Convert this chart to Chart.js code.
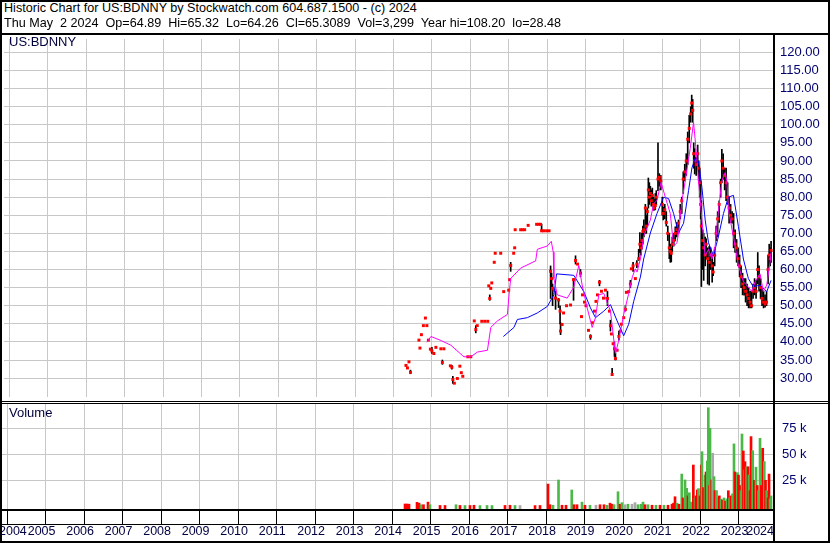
<!DOCTYPE html>
<html><head><meta charset="utf-8">
<script src="https://cdn.jsdelivr.net/npm/chart.js@4.4.1/dist/chart.umd.min.js"></script>
<style>
html,body{margin:0;padding:0;background:#fff;}
#wrap{position:relative;width:830px;height:543px;overflow:hidden;background:#fff;}
.txt{position:absolute;white-space:pre;font-family:'Liberation Sans',Arial,sans-serif;font-size:12.6px;line-height:14px;z-index:6;}
.ln{position:absolute;background:#000;z-index:5;}
canvas{position:absolute;left:0;}
</style></head><body>
<div id="wrap">
<canvas id="priceCanvas" width="830" height="366" style="top:35px;width:830px;height:366px"></canvas>
<canvas id="volCanvas" width="830" height="140" style="top:403px;width:830px;height:140px"></canvas>
<div class="txt" style="left:4px;top:1px;color:#000">Historic Chart for US:BDNNY by Stockwatch.com 604.687.1500 - (c) 2024</div>
<div class="txt" style="left:4px;top:16px;color:#000">Thu May  2 2024  Op=64.89  Hi=65.32  Lo=64.26  Cl=65.3089  Vol=3,299  Year hi=108.20  lo=28.48</div>
<div class="txt" style="left:9px;top:35px;color:#00003c;font-size:13px">US:BDNNY</div>
<div class="txt" style="left:9px;top:406px;color:#00003c;font-size:13px">Volume</div>
<div class="ln" style="left:0;top:0;width:830px;height:2px"></div>
<div class="ln" style="left:0;top:0;width:2px;height:543px"></div>
<div class="ln" style="left:828px;top:0;width:2px;height:543px"></div>
<div class="ln" style="left:0;top:541px;width:830px;height:2px"></div>
<div class="ln" style="left:0;top:33px;width:830px;height:2px"></div>
<div class="ln" style="left:0;top:401px;width:830px;height:1px"></div>
<div class="ln" style="left:0;top:403px;width:830px;height:1px"></div>
<div class="ln" style="left:0;top:509px;width:775px;height:2px"></div>
<div class="ln" style="left:0;top:524px;width:775px;height:1px"></div>
<div class="ln" style="left:773px;top:35px;width:2px;height:508px"></div>
</div>
<script>
// ---------- DATA (dates as decimal years) ----------
const yearTicks = [2005,2006,2007,2008,2009,2010,2011,2012,2013,2014,2015,2016,2017,2018,2019,2020,2021,2022,2023,2024];
const yearLabels = [2004,2005,2006,2007,2008,2009,2010,2011,2012,2013,2014,2015,2016,2017,2018,2019,2020,2021,2022,2023,2024];
const priceTicks = [30,35,40,45,50,55,60,65,70,75,80,85,90,95,100,105,110,115,120];
const volTicks = [25000,50000,75000];

// close-only prints (no visible high/low range)
const tickDates = [
2014.826,2014.865,2014.904,2015.164,2015.190,2015.228,2015.280,2015.332,2015.371,2015.410,
2015.462,2015.553,2015.605,2015.735,2015.813,2015.982,2016.086,2016.164,2016.229,2016.267,
2016.306,2016.436,2016.514,2016.605,2016.683,2016.800,2016.878,2016.956,2016.982,2017.034,
2017.060,2017.125,2017.150,2017.293,2017.371,2017.501,2017.527,2017.631,2017.657,2017.670,
2017.813,2017.865,2017.917,2018.008,2018.228,2018.280,2018.332,2018.410,2018.488,2018.553,
2018.683,2018.891,2018.930,2019.008,2019.112,2019.294,2019.397,2019.423,2019.475,2019.514,
2019.579,2019.683,2019.735,2019.774,2019.813,2019.917,2019.969,2020.021,2020.125,2020.177,
2020.221,2020.325,2020.410,2020.436,2020.496,2020.566,2020.626,2020.696,2020.800];
const tickCloses = [
33.5,32.8,34.5,40.5,38.3,42,44.5,46.6,44.5,40.5,
38,36.8,38.5,38.1,38.1,33.4,28.6,29.9,33.3,31.5,
30.5,35.9,35.9,45.8,44.5,45.7,45.7,45.7,55.5,54.8,
56.3,62,64.5,64.5,53.9,54.3,57.2,64.5,66,71,
71,71,71,72.2,72.5,72.5,72.5,70.7,70.7,70.7,
54.3,44.8,48,50,50.2,61.5,47,53,51,50,
43.2,45.3,48.5,51.2,53,54,52.1,54.3,48.5,42.2,
39.5,37.7,43,44.9,46.7,53.7,53.9,60.2,57.5];

// periods with a visible high-low range
const barDates = [
2014.943,2015.501,2015.774,2016.021,2016.047,2016.644,2017.008,2017.553,2018.358,2018.592,
2018.618,2018.644,2018.722,2018.800,2018.839,2018.852,2019.190,2019.242,2019.371,2019.631,
2019.865,2020.073,2020.151,2020.195,2020.255,2020.281,2020.371,2020.540,2020.670,2020.740,
2020.839,2020.886,2020.917,
2020.943,2020.969,2020.995,2021.021,2021.060,2021.086,2021.112,2021.138,2021.164,2021.190,
2021.216,2021.242,2021.267,2021.293,2021.319,2021.345,2021.389,2021.423,2021.462,2021.501,
2021.527,2021.566,2021.605,2021.644,2021.683,2021.709,2021.735,2021.761,2021.800,2021.839,
2021.878,2021.925,2021.969,2022.008,2022.047,2022.086,2022.125,2022.163,2022.202,2022.241,
2022.267,2022.293,2022.319,2022.345,2022.384,2022.423,2022.449,2022.475,2022.501,2022.519,
2022.553,2022.579,2022.618,2022.644,2022.683,2022.722,2022.761,2022.800,2022.826,2022.865,
2022.904,2022.943,2022.982,2023.021,2023.052,2023.086,2023.125,2023.163,2023.202,2023.241,
2023.280,2023.319,2023.358,2023.397,2023.436,2023.475,2023.514,2023.553,2023.592,2023.631,
2023.670,2023.709,2023.748,2023.787,2023.826,2023.865,2023.904,2023.943,2023.987,2024.021,
2024.060,2024.099,2024.138,2024.177,2024.216,2024.255,2024.285,2024.310,2024.334];
const barHighs = [
32.2,38.5,35,33.5,30.5,44.5,53,62,72.5,61,
59,56,54,52,50,45.3,57.5,63.8,60,42,
57,54,46,32.7,40,37,43,50,57,62,
62.5,65.6,70.2,
68,70,72,73.7,78,75,77,85.3,84,83,
82,82.5,80,79.5,81,81.8,95,86.5,86,80,
77.3,78,76,72,70,67,66,69,70,71.8,
73,73.7,78,80,87,89.1,92,98,102.6,105,
108.2,107,95,93.4,91,94.4,90,88,84.5,79,
71,70,69,68.5,66,66.4,66,64,62,66,
72,76,79,85,93.2,92,88,88,84,80,
78,76,75.5,71,68.3,66,64,61,59,57.5,
57.5,56,55,54,54,56,57.5,57,64.7,61,
57.5,55,54,53,54,64,67,66,67.8];
const barLows = [
31.2,36.8,33.8,32.5,28.5,42.5,51.5,59.5,70.7,52,
55,50,49,49.5,45,42,51.5,61.5,58,40.7,
55.5,50,43,30.8,36,35,40.5,48.5,55,59.5,
60.5,62.5,64.7,
64,65.6,67,69,70,70,72,77,78,79,
77.5,78,76.4,76.4,76.5,78,81.8,83,82,75,
73.7,74,72,68,63,62,62.1,65,66.5,68,
69,70,74,75.5,81,84.5,86,89,95,100.7,
103,100.7,88,86.4,86,88,84.5,80,74,55.3,
60,57,61,63,56,55.7,60,56.5,58.3,61,
68,69,73,80,84,85,82,79,78,72.8,
73,72.8,66,64.7,62,61,58,55,53,52.9,
51,50,49.4,49.4,49.4,52,53,52,56,54,
52,50,49.4,49.6,50,56,61,61,62];
const barCloses = [
31.6,37.5,34.3,33,29.6,43.4,52,61.1,70.7,59.5,
57.5,54.8,52.1,51.6,48.5,43,57.2,62.5,59,41.5,
56.5,52,44.5,31,38.1,35.4,41.5,49,56,61,
61.5,63,67,
66,68,70.5,71,77,72,76,82,80,81,
79,80.5,78,77,77.7,80,85,85.5,84.5,78,
75.5,76.5,73,70,66,65,64.5,67,68,70,
71,72.8,76,79,85,87,90,96,99,103,
106,104,92,90,89,92,88,84,78,72,
68,66,64,67,63,62,64,61,59.3,64,
70,74,78,84,90,88,86,84,80,77,
75,74,70,67,66,63,61,58,56,55,
54,53,52,51,50,54,55,54,60,58,
55,52,51,50.5,51,60,64,63,65.31];

// short moving average (magenta)
const fastMaDates = [
2015.371,2015.475,2015.735,2015.995,2016.332,2016.514,2016.688,2016.948,2017.034,2017.208,
2017.468,2017.510,2017.553,2017.813,2018.203,2018.247,2018.507,2018.610,2018.662,2018.678,
2018.766,2019.026,2019.197,2019.327,2019.415,2019.545,2019.675,2019.761,2019.847,2019.977,
2020.151,2020.281,2020.367,2020.496,2020.618,2020.722,2020.800,2020.844,2020.930,2021.016,
2021.190,2021.276,2021.364,2021.468,2021.580,2021.709,2021.795,2021.884,2021.925,2022.014,
2022.099,2022.229,2022.315,2022.385,2022.445,2022.533,2022.618,2022.704,2022.792,2022.878,
2022.964,2023.052,2023.138,2023.182,2023.224,2023.397,2023.483,2023.613,2023.701,2023.831,
2023.917,2024.047,2024.133,2024.221,2024.307,2024.334];
const fastMaValues = [
39.9,41.5,40.4,39.1,35.9,35.9,37.2,37.7,44,45.8,
47.6,53,57.5,60.4,62.4,65.6,66.5,67.8,64.8,57.5,
53,52.1,55.2,61.1,55.7,49.4,44,46.7,53,53.4,
48.5,36.8,40.4,47.6,53,58,60.2,59.3,62.9,69.2,
73.7,78.2,79.1,84.1,80,75.5,66.5,67.4,70.1,79.1,
84.5,93.5,100.7,92.6,84.5,73.7,63.8,65.6,62.9,66.5,
76.4,84.5,86.8,84.5,76.4,66.5,61.1,56.6,55.7,53.9,
56.6,58.8,53.9,55.7,62,64.8];

// long moving average (blue)
const slowMaDates = [
2017.363,2017.638,2017.727,2017.986,2018.247,2018.507,2018.678,2018.748,2019.197,2019.457,
2019.631,2019.761,2019.977,2020.151,2020.325,2020.496,2020.626,2020.756,2020.930,2021.016,
2021.190,2021.364,2021.535,2021.665,2021.795,2021.925,2022.055,2022.185,2022.273,2022.359,
2022.445,2022.533,2022.618,2022.704,2022.834,2022.964,2023.094,2023.224,2023.354,2023.483,
2023.613,2023.743,2023.873,2024.047,2024.221,2024.334];
const slowMaValues = [
41.5,44,46.2,46.7,48,49.8,53,58.8,58.4,53.9,
49.4,46.7,48.5,50.3,45.8,41.7,44.9,51.2,57.9,62.9,
70.1,75.5,80,79.6,75.5,70.1,72.8,81.8,88.1,90.8,
89.9,82.7,73.7,67.4,63.8,69.2,75.5,80,80.5,71.9,
62.9,57.5,55.2,55.7,53.9,57];

// volume: u = up (green), d = down (red), n = unchanged (grey)
const volDates = [
2014.826,2014.878,2014.930,2015.138,2015.190,2015.242,2015.306,2015.423,2015.475,2015.735,
2015.865,2016.151,2016.254,2016.384,2016.514,2016.618,2016.774,2016.956,2017.086,2017.423,
2017.553,2017.683,2017.813,2018.203,2018.332,2018.540,2018.592,2018.670,2018.813,2018.904,
2019.008,2019.157,2019.216,2019.294,2019.423,2019.501,2019.631,2019.787,2019.891,2019.995,
2020.073,2020.151,2020.203,2020.255,2020.359,2020.410,2020.462,2020.540,2020.618,2020.722,
2020.800,2020.878,2020.956,2021.008,2021.060,2021.138,2021.242,2021.345,2021.449,2021.553,
2021.657,2021.761,2021.800,2021.839,2021.891,2021.943,2022.014,2022.047,2022.099,2022.143,
2022.177,2022.211,2022.254,2022.315,2022.359,2022.384,2022.418,2022.449,2022.488,2022.522,
2022.540,2022.579,2022.618,2022.644,2022.678,2022.704,2022.730,2022.748,2022.792,2022.818,
2022.852,2022.878,2022.917,2022.956,2022.990,2023.034,2023.073,2023.112,2023.151,2023.190,
2023.224,2023.255,2023.294,2023.333,2023.371,2023.397,2023.428,2023.457,2023.488,2023.527,
2023.553,2023.579,2023.613,2023.636,2023.657,2023.701,2023.735,2023.761,2023.787,2023.813,
2023.857,2023.899,2023.943,2023.977,2024.008,2024.047,2024.081,2024.117,2024.158,2024.190,
2024.221,2024.255,2024.281,2024.307,2024.332];
const volValues = [
2200,2200,2000,3800,3000,1500,1500,4000,1500,800,
800,1500,800,700,800,1000,700,800,700,800,
1000,800,700,700,800,21400,1500,1000,25300,1000,
1000,15700,1500,1500,4000,1000,1000,1000,1500,1500,
1000,3000,2000,1500,14000,2000,3500,1500,2000,2000,
3500,1500,2000,4000,1500,1500,1000,1000,1000,1000,
1000,2000,3000,9200,3000,2000,31000,8000,25300,17300,
10000,13000,4000,39700,8000,10000,15700,17000,10000,39700,
52500,18000,30000,33000,43600,94800,20000,75000,25300,51000,
28500,15000,15000,8000,10000,7000,6000,8000,5000,7000,
15000,8000,10000,12000,60000,33000,20000,32300,30000,20000,
15000,69500,53200,35000,42900,38000,38000,30000,15000,67000,
53500,25000,37600,20000,15000,65400,20000,55800,43000,25000,
15000,8000,31000,7000,10000];
const volDir = [
'd','d','d','d','d','u','d','d','u','d',
'd','u','d','u','d','d','u','u','u','d',
'd','u','n','d','d','d','d','u','u','d',
'd','u','d','d','u','d','u','n','d','d',
'u','d','d','u','u','d','u','n','u','n',
'n','u','u','u','d','u','d','u','d','u',
'd','d','d','d','u','d','u','d','u','u',
'd','u','u','d','u','d','d','u','d','d',
'u','d','u','d','u','u','d','u','d','n',
'u','d','u','u','d','u','d','u','d','u',
'd','u','d','u','u','d','d','u','d','d',
'u','u','d','u','d','u','d','u','d','d',
'u','d','u','d','u','u','d','d','u','d',
'u','d','d','u','u'];

// ---------- CHARTS ----------
const FONT = "'Liberation Sans', Arial, sans-serif";
const X_MIN = 2004.3584, X_MAX = 2024.384;
const P_MIN = 24.78, P_MAX = 123.70;
const V_MIN = -2600, V_MAX = 99330;
const GRID = '#c8c8c8';
const dirColor = {u:'#4cb848', d:'#ff0000', n:'#a8a8a8'};

const closes = tickDates.map((d,i)=>({x:d, y:tickCloses[i]}))
  .concat(barDates.map((d,i)=>({x:d, y:barCloses[i]})));
const ranges = barDates.map((d,i)=>({x:d, y:[barLows[i], barHighs[i]]}));
const fastMa = fastMaDates.map((d,i)=>({x:d, y:fastMaValues[i]}));
const slowMa = slowMaDates.map((d,i)=>({x:d, y:slowMaValues[i]}));
const vols = volDates.map((d,i)=>({x:d, y:volValues[i]}));

const xScaleBase = {
  type:'linear', min:X_MIN, max:X_MAX, offset:false,
  border:{display:false},
  afterBuildTicks: s => { s.ticks = yearTicks.map(v=>({value:v})); }
};

new Chart(document.getElementById('priceCanvas'), {
  type:'bar',
  data:{datasets:[
    {type:'line', data:fastMa, borderColor:'#ff00ff', borderWidth:1, pointRadius:0, tension:0, order:0},
    {type:'line', data:slowMa, borderColor:'#0000ff', borderWidth:1, pointRadius:0, tension:0, order:1},
    {type:'scatter', data:closes, pointStyle:'rect', pointRadius:2.1, backgroundColor:'#ff0000', borderWidth:0, order:2},
    {type:'bar', data:ranges, backgroundColor:'#000000', barThickness:1, grouped:false, order:3}
  ]},
  options:{
    responsive:false, animation:false, devicePixelRatio:1,
    layout:{padding:{left:2,right:0,top:0,bottom:0}},
    plugins:{legend:{display:false}, tooltip:{enabled:false}},
    scales:{
      x:Object.assign({}, xScaleBase, {
        grid:{color:GRID, lineWidth:1, drawTicks:false},
        ticks:{display:false},
        afterFit: s => { s.height = 0; s.paddingLeft = 0; s.paddingRight = 0; }
      }),
      y:{
        position:'right', min:P_MIN, max:P_MAX,
        border:{display:false},
        grid:{color:GRID, lineWidth:1, drawTicks:false},
        ticks:{padding:7, color:'#000070', font:{family:FONT, size:13}, callback: v => Number(v).toFixed(2)},
        afterBuildTicks: s => { s.ticks = priceTicks.map(v=>({value:v})); },
        afterFit: s => { s.width = 57; s.paddingTop = 0; s.paddingBottom = 0; }
      }
    }
  }
});

const yearLabelPlugin = {
  id:'yearLabelPlugin',
  afterDraw(chart){
    const ctx = chart.ctx, xs = chart.scales.x, right = chart.chartArea.right;
    ctx.save();
    ctx.font = '12.5px ' + FONT;
    ctx.fillStyle = '#000040';
    ctx.textBaseline = 'middle';
    ctx.textAlign = 'left';
    yearLabels.forEach(yr => {
      const t = String(yr), w = ctx.measureText(t).width;
      let px = xs.getPixelForValue(yr) + 1;
      if (px < -1) px = -1;
      if (px + w > right + 1) px = right + 1 - w;
      ctx.fillText(t, px, chart.chartArea.bottom + 23);
    });
    ctx.restore();
  }
};

new Chart(document.getElementById('volCanvas'), {
  type:'bar',
  data:{datasets:[
    {data:vols, backgroundColor: volDir.map(d=>dirColor[d]), barThickness:2, grouped:false, base:V_MIN}
  ]},
  options:{
    responsive:false, animation:false, devicePixelRatio:1,
    layout:{padding:{left:2,right:0,top:0,bottom:0}},
    plugins:{legend:{display:false}, tooltip:{enabled:false}},
    scales:{
      x:Object.assign({}, xScaleBase, {
        grid:{color:GRID, lineWidth:1, drawTicks:true, tickLength:15, tickColor:'#000000', tickWidth:1},
        ticks:{display:false},
        afterFit: s => { s.height = 34; s.paddingLeft = 0; s.paddingRight = 0; }
      }),
      y:{
        position:'right', min:V_MIN, max:V_MAX,
        border:{display:false},
        grid:{color:GRID, lineWidth:1, drawTicks:false},
        ticks:{padding:9, color:'#000070', font:{family:FONT, size:13}, callback: v => (v/1000) + ' k'},
        afterBuildTicks: s => { s.ticks = volTicks.map(v=>({value:v})); },
        afterFit: s => { s.width = 57; s.paddingTop = 0; s.paddingBottom = 0; }
      }
    }
  },
  plugins:[yearLabelPlugin]
});
</script>
</body></html>
